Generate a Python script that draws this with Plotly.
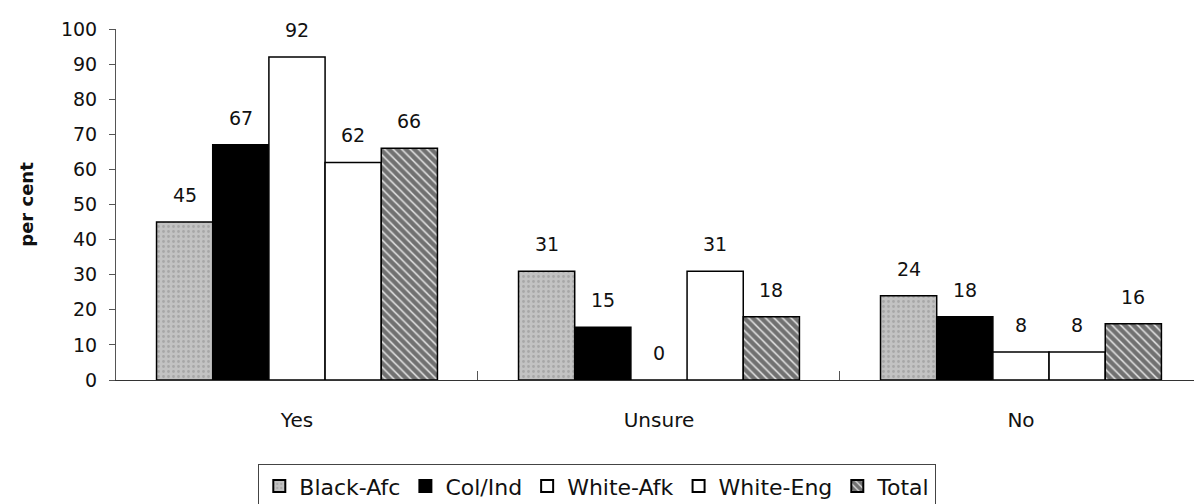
import plotly.graph_objects as go

categories = ["Yes", "Unsure", "No"]
series_names = ["Black-Afc", "Col/Ind", "White-Afk", "White-Eng", "Total"]
black_afc = [45, 31, 24]
col_ind = [67, 15, 18]
white_afk = [92, 0, 8]
white_eng = [62, 31, 8]
total = [66, 18, 16]
series_values = [black_afc, col_ind, white_afk, white_eng, total]

y_ticks = list(range(0, 101, 10))

FONT = "DejaVu Sans, Liberation Sans, Arial, sans-serif"

styles = [
    dict(color="#b8b8b8", pattern=dict(shape=".", fgcolor="#8c8c8c", bgcolor="#c2c2c2", size=5, solidity=0.25)),
    dict(color="#000000"),
    dict(color="#ffffff"),
    dict(color="#ffffff"),
    dict(color="#ffffff", pattern=dict(shape="\\", fgcolor="#0a0a0a", bgcolor="#d8d8d8", size=6, solidity=0.7)),
]

fig = go.Figure()
for name, vals, st in zip(series_names, series_values, styles):
    marker = dict(color=st["color"], line=dict(color="#000000", width=1.5))
    if "pattern" in st:
        marker["pattern"] = st["pattern"]
    fig.add_trace(go.Bar(name=name, x=categories, y=vals, marker=marker,
                         cliponaxis=False))

# data labels as annotations anchored to bar values
bargap = 0.224
n = len(series_names)
plot_left, plot_right = 116, 1194
x_range = [-0.5, 2.478]
px_per_cat = (plot_right - plot_left) / (x_range[1] - x_range[0])
bar_px = px_per_cat * (1 - bargap) / n
annotations = []
for i, vals in enumerate(series_values):
    for c, v in zip(categories, vals):
        annotations.append(dict(
            x=c, y=v, xref="x", yref="y", text=str(v), showarrow=False,
            xshift=(i - (n - 1) / 2) * bar_px, yshift=27, yanchor="middle",
            font=dict(family=FONT, size=19, color="#111111")))

fig.update_layout(
    barmode="group",
    bargap=bargap,
    bargroupgap=0,
    width=1194, height=504,
    margin=dict(l=plot_left, r=0, t=29, b=124, autoexpand=False),
    paper_bgcolor="white", plot_bgcolor="white",
    font=dict(family=FONT, size=19, color="#111111"),
    annotations=annotations,
    showlegend=True,
    legend=dict(orientation="h", x=0.132, y=-0.24, xanchor="left", yanchor="top",
                bordercolor="#444444", borderwidth=1,
                font=dict(family=FONT, size=22, color="#111111"),
                itemsizing="constant", traceorder="normal", itemwidth=30,
                tracegroupgap=0),
)
fig.update_xaxes(type="category", range=x_range, showline=True, linecolor="#333333",
                 linewidth=1.2, ticks="inside", tickson="boundaries", ticklen=9,
                 tickcolor="#555555", showgrid=False, ticklabelstandoff=22,
                 tickfont=dict(size=20))
fig.update_yaxes(range=[0, 100], tickvals=y_ticks, showline=True, linecolor="#555555",
                 linewidth=1, ticks="outside", ticklen=6, tickcolor="#555555",
                 showgrid=False, zeroline=False, ticklabelstandoff=8,
                 tickfont=dict(size=19),
                 title=dict(text="<b>per cent</b>", font=dict(size=18), standoff=22))

fig.write_html("out.html")
